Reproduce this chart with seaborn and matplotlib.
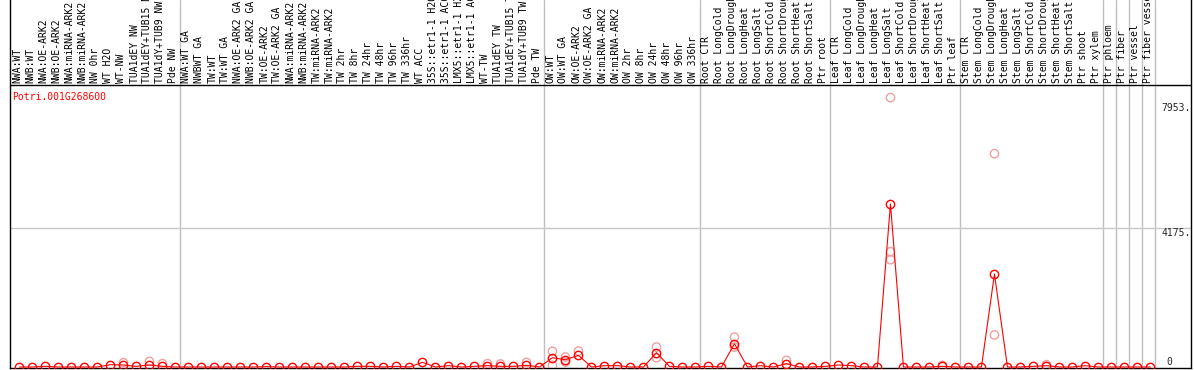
import numpy as np
import pandas as pd
import matplotlib.pyplot as plt
import seaborn as sns

gene = "Potri.001G268600"

labels = [
    # NW
    "NWA:WT", "NWB:WT", "NWA:OE-ARK2", "NWB:OE-ARK2", "NWA:miRNA-ARK2", "NWB:miRNA-ARK2",
    "NW 0hr", "WT H2O", "WT-NW", "TUA1dEY NW", "TUA1dEY+TUB15 NW", "TUA1dY+TUB9 NW", "Pde NW",
    # TW
    "NWA:WT GA", "NWBWT GA", "TW:WT", "TW:WT GA", "NWA:OE-ARK2 GA", "NWB:OE-ARK2 GA",
    "TW:OE-ARK2", "TW:OE-ARK2 GA", "NWA:miRNA-ARK2", "NWB:miRNA-ARK2", "TW:miRNA-ARK2",
    "TW:miRNA-ARK2", "TW 2hr", "TW 8hr", "TW 24hr", "TW 48hr", "TW 96hr", "TW 336hr", "WT ACC",
    "35S::etr1-1 H2O", "35S::etr1-1 ACC", "LMX5::etr1-1 H2O", "LMX5::etr1-1 ACC", "WT-TW",
    "TUA1dEY TW", "TUA1dEY+TUB15 TW", "TUA1dY+TUB9 TW", "Pde TW",
    # OW
    "OW:WT", "OW:WT GA", "OW:OE-ARK2", "OW:OE-ARK2 GA", "OW:miRNA-ARK2", "OW:miRNA-ARK2",
    "OW 2hr", "OW 8hr", "OW 24hr", "OW 48hr", "OW 96hr", "OW 336hr",
    # root
    "Root CTR", "Root LongCold", "Root LongDrought", "Root LongHeat", "Root LongSalt",
    "Root ShortCold", "Root ShortDrought", "Root ShortHeat", "Root ShortSalt", "Ptr root",
    # leaf
    "Leaf CTR", "Leaf LongCold", "Leaf LongDrought", "Leaf LongHeat", "Leaf LongSalt",
    "Leaf ShortCold", "Leaf ShortDrought", "Leaf ShortHeat", "Leaf ShortSalt", "Ptr leaf",
    # stem
    "Stem CTR", "Stem LongCold", "Stem LongDrought", "Stem LongHeat", "Stem LongSalt",
    "Stem ShortCold", "Stem ShortDrought", "Stem ShortHeat", "Stem ShortSalt", "Ptr shoot",
    "Ptr xylem",
    "Ptr phloem", "Ptr fiber", "Ptr vessel", "Ptr fiber vessel",
]

means = [
    0, 0, 20, 0, 0, 0, 0, 70, 60, 20, 60, 20, 0,
    0, 0, 0, 0, 0, 0, 10, 0, 0, 0, 0, 0, 0, 20, 20, 0, 20, 0, 140, 0, 40, 0, 20, 40, 20,
    20, 50, 0,
    280, 220, 350, 0, 40, 40, 0, 0, 430, 20, 0, 0,
    20, 0, 700, 0, 40, 0, 100, 0, 0, 20,
    60, 40, 0, 0, 4910, 0, 0, 0, 20, 0,
    0, 0, 2800, 0, 0, 20, 40, 0, 0, 40, 0,
    0, 0, 0, 0,
]

# replicate samples that stand apart from the mean
rep_idx = [8, 10, 11, 36, 37, 39, 41, 41, 42, 42, 43, 49, 49, 55, 55, 59,
           67, 67, 67, 71, 75, 75, 79]
rep_val = [130, 170, 100, 100, 90, 140, 470, 50, 300, 150, 480, 600, 280, 900, 600, 200,
           8110, 3470, 3230, 50, 6420, 965, 70]

group_ends = [13, 41, 53, 63, 73, 84, 85, 86, 87, 88]
tick_vals = [0, 4175, 7953]
tick_text = ["0", "4175.", "7953."]

sns.set_style("white")
plt.rcParams["font.family"] = ["DejaVu Sans Mono"]

fig = plt.figure(figsize=(11.94, 3.70), dpi=100)
ax = fig.add_axes([10 / 1194, 2 / 370, 1181 / 1194, 368 / 370])

upp = 4175 / 138.7  # data units per pixel
ax.set_xlim(-1 / 13, 1180 / 13)
ax.set_ylim(-1 * upp, 367 * upp)

df = pd.DataFrame({"x": np.arange(len(means)) + 0.65, "y": means})
reps = pd.DataFrame({"x": np.array(rep_idx) + 0.65, "y": rep_val})

for b in group_ends:
    ax.axvline(b, color="#c0c0c0", lw=1, zorder=1)
ax.axhline(4175, color="#c8c8c8", lw=1, zorder=1)
ax.axhline((367 - 85) * upp, color="black", lw=1, zorder=2)

sns.scatterplot(data=reps, x="x", y="y", ax=ax, marker="o", s=36,
                fc="none", ec="#f0a0a0", linewidth=1, zorder=3)
sns.lineplot(data=df, x="x", y="y", ax=ax, estimator=None, sort=False,
             color="red", lw=0.8, marker="o", ms=6, mfc="none", mec="red", mew=1, zorder=4)

for i, lab in enumerate(labels):
    ax.text(i + 0.5, (367 - 83) * upp, lab, rotation=90, ha="center", va="bottom",
            fontsize=7, color="black")

ax.text(0.05, (367 - 97) * upp, gene, color="red", fontsize=7, va="center", ha="left")

ax.text(88.5, 7953, tick_text[2], fontsize=7, va="top", ha="left")
ax.text(88.5, 4175, tick_text[1], fontsize=7, va="top", ha="left")
ax.text(88.9, 0, tick_text[0], fontsize=7, va="bottom", ha="left")

ax.set_xticks([])
ax.set_yticks([])
ax.set_xlabel("")
ax.set_ylabel("")
for side in ["left", "bottom", "right"]:
    ax.spines[side].set_color("black")
    ax.spines[side].set_linewidth(1)
ax.spines["top"].set_visible(False)

fig.savefig("out.png", dpi=100)
